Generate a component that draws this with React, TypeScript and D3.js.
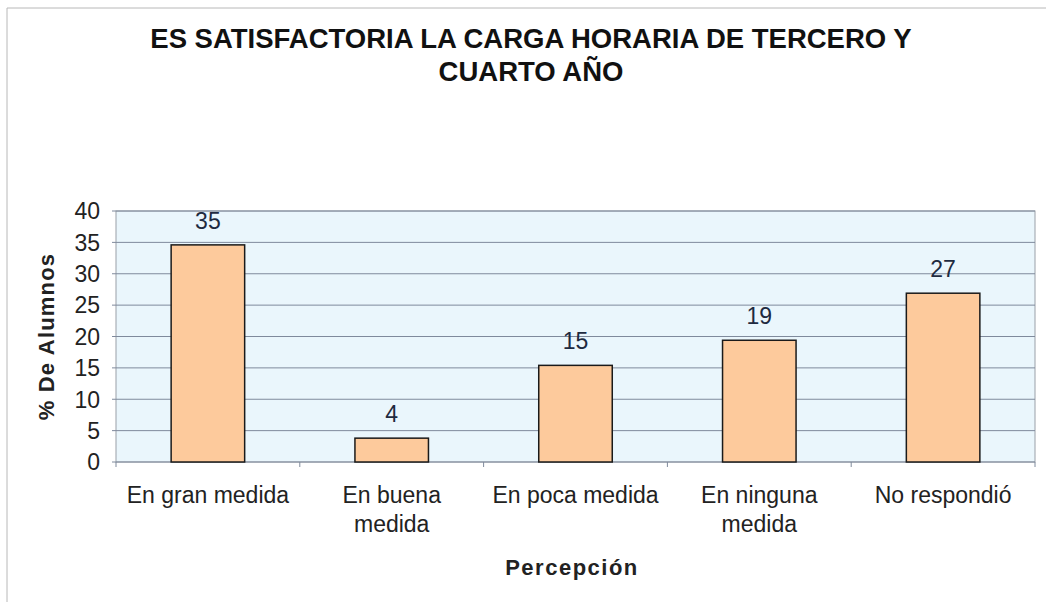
import React from "react";
import * as d3 from "d3";

const categories: string[][] = [
  ["En gran medida"],
  ["En buena", "medida"],
  ["En poca medida"],
  ["En ninguna", "medida"],
  ["No respondió"],
];
const values: number[] = [34.6, 3.8, 15.4, 19.4, 26.9];
const yTicks: number[] = [0, 5, 10, 15, 20, 25, 30, 35, 40];
const titleLines: string[] = ["ES SATISFACTORIA LA CARGA HORARIA DE TERCERO Y", "CUARTO AÑO"];
const yTitle = "% De Alumnos";
const xTitle = "Percepción";

const W = 1046;
const H = 602;
const plot = { left: 116, right: 1035, top: 211, bottom: 462 };
const font = "Arial, 'Liberation Sans', sans-serif";

export default function App() {
  const keys = categories.map((c) => c.join(" "));
  const x = d3.scaleBand<string>().domain(keys).range([plot.left, plot.right]).paddingInner(0.6).paddingOuter(0.3);
  const band = d3.scaleBand<string>().domain(keys).range([plot.left, plot.right]);
  const y = d3.scaleLinear().domain([0, 40]).range([plot.bottom, plot.top]);
  const fmt = d3.format(".0f");

  return (
    <svg width={W} height={H} style={{ position: "absolute", left: 0, top: 0, background: "#fff" }}>
      <rect x={0} y={0} width={W} height={H} fill="#fff" />
      <line x1={7} y1={8} x2={W} y2={8} stroke="#b8b8b8" strokeWidth={1} />
      <line x1={7} y1={8} x2={7} y2={H} stroke="#b8b8b8" strokeWidth={1} />
      {titleLines.map((t, i) => (
        <text key={i} x={531} y={48 + i * 33} textAnchor="middle" fontFamily={font} fontWeight="bold" fontSize={27.5} fill="#111">
          {t}
        </text>
      ))}
      <rect x={plot.left} y={plot.top} width={plot.right - plot.left} height={plot.bottom - plot.top} fill="#eaf6fc" stroke="#9aa0a8" strokeWidth={1} />
      {yTicks.map((t) => (
        <g key={t}>
          {t > 0 && <line x1={plot.left} x2={plot.right} y1={y(t)} y2={y(t)} stroke="#7f8a9c" strokeWidth={1} />}
          <line x1={plot.left - 4} x2={plot.left} y1={y(t)} y2={y(t)} stroke="#7f8a9c" strokeWidth={1} />
          <text x={plot.left - 16} y={y(t)} dy="0.36em" textAnchor="end" fontFamily={font} fontSize={23} fill="#222">
            {t}
          </text>
        </g>
      ))}
      <line x1={plot.left} x2={plot.right} y1={plot.bottom} y2={plot.bottom} stroke="#7f8a9c" strokeWidth={1.2} />
      {keys.map((k, i) => (
        <line key={"t" + i} x1={band(k)!} x2={band(k)!} y1={plot.bottom} y2={plot.bottom + 5} stroke="#7f8a9c" strokeWidth={1} />
      ))}
      <line x1={plot.right} x2={plot.right} y1={plot.bottom} y2={plot.bottom + 5} stroke="#7f8a9c" strokeWidth={1} />
      {keys.map((k, i) => (
        <g key={k}>
          <rect x={x(k)!} y={y(values[i])} width={x.bandwidth()} height={plot.bottom - y(values[i])} fill="#fdca9c" stroke="#1a1a1a" strokeWidth={1.5} />
          <text x={x(k)! + x.bandwidth() / 2} y={y(values[i]) - 16} textAnchor="middle" fontFamily={font} fontSize={23} fill="#1e2a40">
            {fmt(values[i])}
          </text>
          {categories[i].map((line, j) => (
            <text key={j} x={band(k)! + band.bandwidth() / 2} y={503 + j * 29} textAnchor="middle" fontFamily={font} fontSize={23} fill="#222">
              {line}
            </text>
          ))}
        </g>
      ))}
      <text transform={`translate(54,${(plot.top + plot.bottom) / 2}) rotate(-90)`} textAnchor="middle" fontFamily={font} fontWeight="bold" fontSize={22} letterSpacing={1.2} fill="#222">
        {yTitle}
      </text>
      <text x={572} y={575} textAnchor="middle" fontFamily={font} fontWeight="bold" fontSize={22} letterSpacing={1.5} fill="#222">
        {xTitle}
      </text>
    </svg>
  );
}
